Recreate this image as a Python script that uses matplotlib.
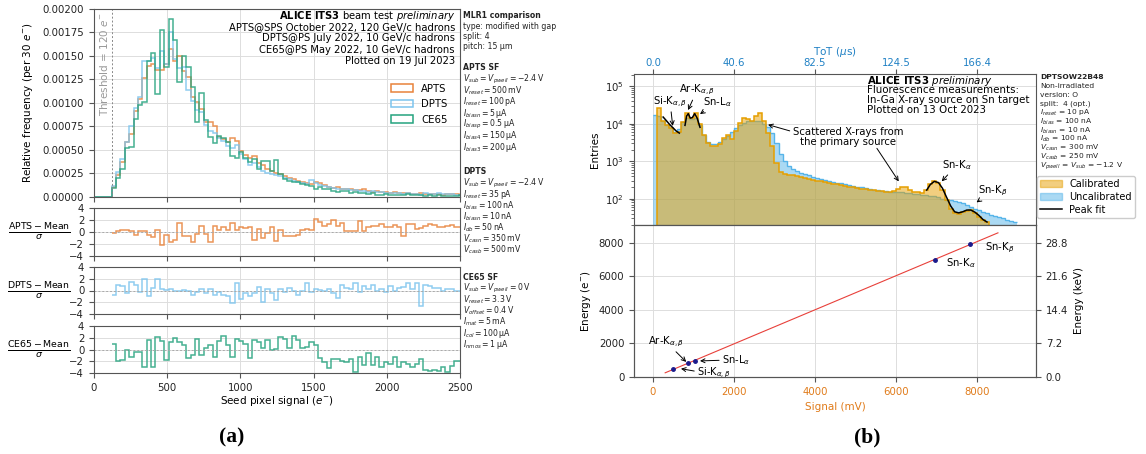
import numpy as np
import matplotlib
matplotlib.use("Agg")
import matplotlib.pyplot as plt
from matplotlib.patches import Patch
from matplotlib.lines import Line2D

# ---------------- (a) seed pixel signal comparison ----------------
threshold = 120          # e-
bin_width = 30           # e-
apts = [0.00011, 0.00023, 0.00037, 0.00058, 0.00067, 0.00091, 0.00104, 0.00127, 0.00139, 0.00142,
        0.00135, 0.00135, 0.00141, 0.00157, 0.00145, 0.00150, 0.00134, 0.00128, 0.00106, 0.00101,
        0.00094, 0.00080, 0.00080, 0.00075, 0.00064, 0.00062, 0.00058, 0.00063, 0.00060, 0.00049,
        0.00045, 0.00042, 0.00044, 0.00036, 0.00034, 0.00030, 0.00028, 0.00026, 0.00024, 0.00022,
        0.00020, 0.00019, 0.00017, 0.00016, 0.00015, 0.00014, 0.00016, 0.00015, 0.00013, 0.00011,
        0.00010, 0.00011, 0.00009, 0.00009, 0.00008, 0.00007, 0.00007, 0.00008, 0.00006, 0.00005,
        0.00006, 0.00005, 0.00005, 0.00004, 0.00005, 0.00004, 0.00004, 0.00004, 0.00003, 0.00003,
        0.00004, 0.00003, 0.00003, 0.00003, 0.00003, 0.00002, 0.00003, 0.00003, 0.00003, 0.00002]
dpts = [0.00012, 0.00027, 0.00040, 0.00059, 0.00076, 0.00095, 0.00106, 0.00145, 0.00145, 0.00148,
        0.00137, 0.00155, 0.00142, 0.00175, 0.00147, 0.00137, 0.00138, 0.00114, 0.00102, 0.00093,
        0.00090, 0.00077, 0.00070, 0.00068, 0.00063, 0.00060, 0.00054, 0.00052, 0.00055, 0.00046,
        0.00040, 0.00034, 0.00036, 0.00032, 0.00028, 0.00026, 0.00024, 0.00023, 0.00022, 0.00020,
        0.00019, 0.00017, 0.00016, 0.00015, 0.00014, 0.00018, 0.00015, 0.00013, 0.00012, 0.00011,
        0.00010, 0.00009, 0.00008, 0.00008, 0.00007, 0.00007, 0.00006, 0.00006, 0.00005, 0.00006,
        0.00005, 0.00005, 0.00004, 0.00004, 0.00004, 0.00004, 0.00003, 0.00004, 0.00003, 0.00003,
        0.00002, 0.00004, 0.00003, 0.00003, 0.00004, 0.00003, 0.00003, 0.00003, 0.00002, 0.00002]
ce65 = [0.00010, 0.00020, 0.00030, 0.00052, 0.00053, 0.00083, 0.00098, 0.00101, 0.00145, 0.00153,
        0.00110, 0.00178, 0.00138, 0.00189, 0.00167, 0.00122, 0.00150, 0.00138, 0.00117, 0.00080,
        0.00111, 0.00082, 0.00064, 0.00057, 0.00065, 0.00063, 0.00058, 0.00044, 0.00041, 0.00048,
        0.00041, 0.00037, 0.00040, 0.00030, 0.00038, 0.00038, 0.00028, 0.00039, 0.00024, 0.00019,
        0.00017, 0.00016, 0.00016, 0.00014, 0.00013, 0.00012, 0.00009, 0.00011, 0.00009, 0.00008,
        0.00006, 0.00005, 0.00006, 0.00006, 0.00004, 0.00005, 0.00004, 0.00004, 0.00003, 0.00004,
        0.00002, 0.00002, 0.00003, 0.00002, 0.00002, 0.00002, 0.00002, 0.00003, 0.00002, 0.00002,
        0.00002, 0.00001, 0.00002, 0.00001, 0.00002, 0.00001, 0.00001, 0.00001, 0.00001, 0.00002]

# (value - mean) / sigma for each chip, same binning
apts_pull = [-0.2, 0.2, 0.3, 0.4, 0.2, -0.5, 0.2, 0.1, -0.5, -0.8, 0.3, -2.2, -0.5, -1.6, -1.3, 1.5,
             -0.6, -0.6, -1.6, -0.3, 1.0, -0.3, -1.7, 1.0, 0.3, 0.8, 0.3, 1.5, 0.3, 0.8, 0.6, 0.8,
             -1.4, 0.5, -1.0, -0.2, 0.8, -1.5, 0.4, -0.6, -0.6, -0.6, -0.5, 0.3, 0.5, 0.4, 2.2, 1.7,
             1.0, 1.3, 2.0, 1.0, 1.5, 0.2, 0.2, 0.2, 1.8, 0.2, 0.8, 1.0, 1.0, 1.3, 0.9, 0.9,
             1.2, 0.9, -0.7, 1.3, 1.3, 0.5, 0.7, 1.0, 1.4, 1.1, 0.8, 0.8, 1.0, 1.2, 0.9, 0.8]
dpts_pull = [-0.8, 1.0, 0.7, -0.4, 1.4, 1.0, -0.2, 2.0, -1.0, 0.5, 2.0, 0.2, 0.1, 0.2, 0.0, 0.0,
             0.1, 0.0, -0.7, -0.3, 0.2, -0.5, 0.3, -0.7, -0.2, -0.8, -0.9, -2.2, 1.2, -1.5, -0.5, -1.0,
             -0.4, 0.6, -2.0, 0.3, -0.4, -1.6, 0.2, -0.3, 0.5, 0.0, -0.8, 0.0, 1.2, -0.2, 0.3, 0.1,
             0.0, 0.3, -0.4, -1.3, 1.0, 0.4, 0.3, 1.2, -0.3, 0.8, 0.2, 1.0, 0.0, 0.3, -0.2, 0.8,
             0.0, 0.5, 0.6, 1.2, 0.2, 1.3, -2.7, 0.9, 0.8, 0.5, 0.4, 0.0, 0.2, 0.3, 0.0, 0.0]
ce65_pull = [1.0, -1.9, -1.8, 0.0, -1.2, -0.5, -0.5, -2.9, 1.7, -2.9, 2.2, 1.5, -1.8, 1.3, 2.0, 1.3,
             0.8, -1.5, -0.9, 1.8, -1.0, 0.2, 0.8, -1.3, 1.5, 2.3, 0.8, -1.3, 1.8, 1.4, 1.0, -1.5,
             1.6, 1.3, 0.3, 1.7, 0.0, 0.1, 2.2, 1.8, 0.2, 2.3, 1.7, 0.3, 0.5, 1.3, 0.7, -1.4,
             -2.2, -3.1, -1.6, -1.7, -1.9, -2.1, -1.6, -3.9, -1.2, -2.6, -0.6, -2.7, -1.2, -3.0, -2.1, -2.4,
             -1.3, -2.9, -2.1, -2.5, -3.0, -2.5, -1.6, -3.5, -3.6, -3.5, -3.6, -3.0, -3.8, -2.8, -2.0, -2.0]

chips = ["APTS", "DPTS", "CE65"]
chip_colors = {"APTS": "#E8823A", "DPTS": "#7CC4EE", "CE65": "#25A37E"}

# ---------------- (b) DPTS fluorescence calibration ----------------
spec_bin = 100  # mV
calibrated = [0, 26000, 12000, 9000, 7500, 5800, 6000, 11000, 19000, 14000,
              19000, 10000, 5000, 3000, 2600, 2600, 2800, 4200, 5000, 4000,
              6500, 10500, 14500, 13000, 11500, 16000, 19500, 12000, 5500, 2500,
              900, 520, 470, 440, 420, 400, 380, 360, 340, 320,
              300, 290, 275, 265, 250, 240, 230, 220, 210, 200,
              195, 185, 180, 172, 168, 162, 158, 155, 150, 160,
              185, 210, 200, 175, 155, 150, 145, 170, 250, 300,
              270, 170, 90, 55, 42, 40, 44, 48, 50, 42,
              32, 27, 24, 0, 0, 0, 0, 0, 0, 0]
uncalibrated = [17000, 16000, 12000, 9000, 7500, 6000, 7000, 11000, 14000, 13000,
                14000, 9000, 5000, 3300, 2800, 2900, 3200, 3800, 4800, 6000,
                7500, 9000, 10500, 11500, 12000, 12000, 11500, 10000, 8000, 5500,
                3000, 1600, 1000, 750, 620, 550, 500, 460, 420, 390,
                360, 340, 320, 300, 285, 270, 255, 240, 230, 220,
                210, 200, 190, 180, 175, 170, 165, 160, 155, 150,
                150, 150, 145, 140, 135, 130, 125, 125, 120, 115,
                110, 100, 95, 90, 85, 80, 75, 70, 62, 55,
                50, 45, 42, 38, 35, 33, 30, 28, 26, 24]

# peak fit curves (signal in mV, entries)
fit_si_x = [250, 330, 410, 490, 570, 650]
fit_si_y = [15000, 12000, 9500, 7800, 6400, 5600]
fit_ar_x = [790, 830, 870, 920, 970, 1030, 1090, 1160]
fit_ar_y = [9000, 16000, 18500, 14000, 14500, 18500, 14000, 8000]
fit_sn_x = [6760, 6850, 6950, 7050, 7150, 7250, 7350, 7450, 7550, 7650, 7750, 7850, 7950, 8050, 8150, 8250]
fit_sn_y = [170, 240, 290, 270, 190, 110, 65, 45, 42, 45, 50, 50, 44, 36, 28, 24]

# calibration points: fitted peak position vs. line energy
cal_lines = ["Si", "Ar", "SnL", "SnKa", "SnKb"]
cal_signal = [494, 856, 1037, 6958, 7830]      # mV
cal_energy = [483, 822, 955, 7000, 7917]       # e-
ev_per_pair = 3.6                              # eV per e-h pair in Si

signal_ticks = [0, 2000, 4000, 6000, 8000]
tot_labels = ["0.0", "40.6", "82.5", "124.5", "166.4"]

CAL = "#E69F00"
UNCAL = "#56B4E9"
SIG_COLOR = "#E07B1A"
TOT_COLOR = "#1F80C4"

plt.rcParams.update({
    "font.family": "DejaVu Sans",
    "font.size": 7.3,
    "axes.edgecolor": "#555555",
    "axes.linewidth": 0.8,
    "xtick.color": "#555555",
    "ytick.color": "#555555",
    "xtick.labelcolor": "#222222",
    "ytick.labelcolor": "#222222",
    "xtick.labelsize": 7.3,
    "ytick.labelsize": 7.3,
    "grid.color": "#dddddd",
    "grid.linewidth": 0.7,
})

W, H = 1146, 454
fig = plt.figure(figsize=(W / 100, H / 100), dpi=100)


def px_axes(x0, y0, x1, y1, **kw):
    return fig.add_axes([x0 / W, 1 - y1 / H, (x1 - x0) / W, (y1 - y0) / H], **kw)


# ---- main histogram
ax = px_axes(94, 9, 460, 197)
edges = np.arange(0, threshold + bin_width * (len(apts) + 0.5), bin_width)
n_below = threshold // bin_width
for name, vals in zip(chips, [apts, dpts, ce65]):
    full = np.concatenate([np.zeros(n_below), vals])
    ax.stairs(full, edges, color=chip_colors[name], lw=1.1, alpha=0.85, baseline=None)
ax.axvline(threshold, color="#888888", lw=0.7, ls=(0, (2, 2)))
ax.text(threshold - 50, 0.00197, r"Threshold = 120 $e^{-}$", rotation=90, color="#999999",
        ha="center", va="top", fontsize=7.5)
ax.set_xlim(0, 2500)
ax.set_ylim(0, 0.002)
ax.set_yticks(np.arange(0, 0.00201, 0.00025))
ax.yaxis.set_major_formatter(matplotlib.ticker.FormatStrFormatter("%.5f"))
ax.set_xticks(np.arange(0, 2501, 500))
ax.tick_params(labelbottom=False)
ax.grid(True)
ax.set_axisbelow(True)
ax.set_ylabel(r"Relative frequency (per 30 $e^{-}$)", fontsize=7.5)
ax.yaxis.set_label_coords(-0.16, 0.5)

header = [r"$\bf{ALICE\ ITS3}$ beam test $\it{preliminary}$",
          "APTS@SPS October 2022, 120 GeV/c hadrons",
          "DPTS@PS July 2022, 10 GeV/c hadrons",
          "CE65@PS May 2022, 10 GeV/c hadrons",
          "Plotted on 19 Jul 2023"]
for i, line in enumerate(header):
    ax.text(0.986, (197 - 16 - 11.2 * i) / 188, line, transform=ax.transAxes,
            ha="right", va="center", fontsize=7.2)

handles = [Patch(facecolor="none", edgecolor=chip_colors[c], lw=1.1, label=c) for c in chips]
ax.legend(handles=handles, loc="upper left", bbox_to_anchor=(0.8, 0.625), frameon=False,
          fontsize=7.3, handlelength=2.2, handleheight=0.8, labelspacing=0.55, borderaxespad=0)

# ---- pull panels
pull_edges = np.arange(threshold, threshold + bin_width * (len(apts_pull) + 0.5), bin_width)
pull_boxes = [(208, 256), (267, 314), (326, 373)]
for (y0, y1), name, pulls in zip(pull_boxes, chips, [apts_pull, dpts_pull, ce65_pull]):
    rax = px_axes(94, y0, 460, y1, sharex=ax)
    rax.stairs(pulls, pull_edges, color=chip_colors[name], lw=1.1, alpha=0.85, baseline=None)
    rax.axhline(0, color="#aaaaaa", lw=0.7, ls=(0, (2, 2)))
    rax.set_ylim(-4, 4)
    rax.set_yticks([-4, -2, 0, 2, 4])
    rax.grid(True)
    rax.set_axisbelow(True)
    rax.set_ylabel(r"$\frac{\mathrm{%s - Mean}}{\sigma}$" % name, rotation=0,
                   ha="center", va="center", fontsize=9.6)
    rax.yaxis.set_label_coords(-0.15, 0.5)
    if name != "CE65":
        rax.tick_params(labelbottom=False)
rax.set_xlim(0, 2500)
rax.set_xlabel(r"Seed pixel signal ($e^{-}$)", fontsize=7.5, labelpad=1)


# ---- operating conditions text
def text_block(x, y_start, step, lines, size=5.6):
    for i, line in enumerate(lines):
        fig.text(x / W, 1 - (y_start + step * i) / H, line, ha="left", va="center",
                 fontsize=size, fontweight="bold" if i == 0 else "normal", color="#222222")


text_block(463, 16, 10.2, ["MLR1 comparison", "type: modified with gap", "split: 4",
                            "pitch: 15 µm"])
text_block(463, 68, 11.3, ["APTS SF",
                            r"$V_{sub} = V_{pwell} = -2.4\,\mathrm{V}$",
                            r"$V_{reset} = 500\,\mathrm{mV}$",
                            r"$I_{reset} = 100\,\mathrm{pA}$",
                            r"$I_{biasn} = 5\,$µA",
                            r"$I_{biasp} = 0.5\,$µA",
                            r"$I_{bias4} = 150\,$µA",
                            r"$I_{bias3} = 200\,$µA"])
text_block(463, 172, 11.1, ["DPTS",
                             r"$V_{sub} = V_{pwell} = -2.4\,\mathrm{V}$",
                             r"$I_{reset} = 35\,\mathrm{pA}$",
                             r"$I_{bias} = 100\,\mathrm{nA}$",
                             r"$I_{biasn} = 10\,\mathrm{nA}$",
                             r"$I_{db} = 50\,\mathrm{nA}$",
                             r"$V_{casn} = 350\,\mathrm{mV}$",
                             r"$V_{casb} = 500\,\mathrm{mV}$"])
text_block(463, 277, 11.2, ["CE65 SF",
                             r"$V_{sub} = V_{pwell} = 0\,\mathrm{V}$",
                             r"$V_{reset} = 3.3\,\mathrm{V}$",
                             r"$V_{offset} = 0.4\,\mathrm{V}$",
                             r"$I_{mat} = 5\,\mathrm{mA}$",
                             r"$I_{col} = 100\,$µA",
                             r"$I_{nmos} = 1\,$µA"])

# ---- spectrum panel (ToT scale on top)
axs = px_axes(634, 74, 1036, 225)
spec_edges = np.arange(0, spec_bin * (len(calibrated) + 0.5), spec_bin)
axs.stairs(uncalibrated, spec_edges, fill=True, color=UNCAL, alpha=0.5, baseline=1)
axs.stairs(uncalibrated, spec_edges, color=UNCAL, lw=1.0, baseline=None)
axs.stairs(calibrated, spec_edges, fill=True, color=CAL, alpha=0.5, baseline=1)
axs.stairs(calibrated, spec_edges, color=CAL, lw=1.1, baseline=None)
for fx, fy in [(fit_si_x, fit_si_y), (fit_ar_x, fit_ar_y), (fit_sn_x, fit_sn_y)]:
    axs.plot(fx, fy, color="black", lw=1.1)
axs.set_yscale("log")
axs.set_ylim(20, 2.1e5)
axs.set_xlim(-470, 9460)
axs.set_xticks(signal_ticks)
axs.set_xticklabels(tot_labels)
axs.tick_params(axis="x", top=True, bottom=False, labeltop=True, labelbottom=False,
                labelcolor=TOT_COLOR, pad=1)
axs.xaxis.set_label_position("top")
axs.set_xlabel(r"ToT ($\mu$s)", color=TOT_COLOR, fontsize=7.5, labelpad=2)
axs.set_ylabel("Entries", fontsize=7.5)
axs.grid(True)
axs.set_axisbelow(True)

arrow = dict(arrowstyle="->", color="black", lw=0.7, shrinkA=0, shrinkB=0)
axs.annotate(r"Si-K$_{\alpha,\beta}$", xy=(486, 8700), xytext=(420, 38000),
             ha="center", va="center", fontsize=7.3, arrowprops=arrow)
axs.annotate(r"Ar-K$_{\alpha,\beta}$", xy=(865, 23000), xytext=(1090, 78000),
             ha="center", va="center", fontsize=7.3, arrowprops=arrow)
axs.annotate(r"Sn-L$_{\alpha}$", xy=(1160, 18000), xytext=(1600, 38000),
             ha="center", va="center", fontsize=7.3, arrowprops=arrow)
axs.annotate("Scattered X-rays from\nthe primary source", xy=(2840, 9400), xytext=(4810, 4500),
             ha="center", va="center", fontsize=7.3, linespacing=1.0,
             arrowprops=dict(arrow, relpos=(0.0, 0.75)))
axs.annotate("", xy=(6070, 290), xytext=(5530, 2200), arrowprops=arrow)
axs.annotate(r"Sn-K$_{\alpha}$", xy=(7130, 290), xytext=(7500, 780),
             ha="center", va="center", fontsize=7.3, arrowprops=arrow)
axs.annotate(r"Sn-K$_{\beta}$", xy=(7990, 80), xytext=(8400, 166),
             ha="center", va="center", fontsize=7.3, arrowprops=arrow)

info = [r"$\bf{ALICE\ ITS3}$ $\it{preliminary}$",
        "Fluorescence measurements:",
        "In-Ga X-ray source on Sn target",
        "Plotted on 13 Oct 2023"]
for i, line in enumerate(info):
    axs.text((867 - 634) / 402, 1 - (80.7 + 9.8 * i - 74) / 151, line, transform=axs.transAxes,
             ha="left", va="center", fontsize=7.4)

leg_handles = [Patch(facecolor=CAL, alpha=0.5, edgecolor=CAL, label="Calibrated"),
               Patch(facecolor=UNCAL, alpha=0.5, edgecolor=UNCAL, label="Uncalibrated"),
               Line2D([], [], color="black", lw=1.1, label="Peak fit")]
axs.legend(handles=leg_handles, loc="upper left", bbox_to_anchor=(1.003, 0.325), fontsize=7,
           handlelength=2.2, labelspacing=0.3, borderaxespad=0, borderpad=0.3,
           fancybox=True, framealpha=1, edgecolor="#cccccc")

text_block(1040, 77.3, 8.87, ["DPTSOW22B48", "Non-irradiated", "version: O", "split:  4 (opt.)",
                              r"$I_{reset}$ = 10 pA", r"$I_{bias}$ = 100 nA",
                              r"$I_{biasn}$ = 10 nA", r"$I_{db}$ = 100 nA",
                              r"$V_{casn}$ = 300 mV", r"$V_{casb}$ = 250 mV",
                              r"$V_{pwell}$ = $V_{sub}$ = $-$1.2 V"], size=5.4)

# ---- calibration panel
axc = px_axes(634, 225, 1036, 377)
coef = np.polyfit(cal_signal, cal_energy, 1)
fit_x = np.array([300, 8520])
axc.plot(fit_x, np.polyval(coef, fit_x), color="#E8403A", lw=0.8)
axc.plot(cal_signal, cal_energy, "o", color="#1a1a8c", ms=2.5)
axc.set_xlim(-470, 9460)
axc.set_xticks(signal_ticks)
axc.tick_params(axis="x", labelcolor=SIG_COLOR)
axc.set_ylim(0, 9070)
axc.set_yticks([0, 2000, 4000, 6000, 8000])
axc.set_xlabel("Signal (mV)", color=SIG_COLOR, fontsize=7.5)
axc.set_ylabel(r"Energy (e$^{-}$)", fontsize=7.5)
axc.grid(True)
axc.set_axisbelow(True)

axk = axc.twinx()
axk.set_ylim(0, 9070 * ev_per_pair / 1000)
axk.set_yticks([0, 7.2, 14.4, 21.6, 28.8])
axk.yaxis.set_major_formatter(matplotlib.ticker.FormatStrFormatter("%.1f"))
axk.set_ylabel("Energy (keV)", fontsize=7.5)

axc.annotate(r"Ar-K$_{\alpha,\beta}$", xy=(820, 900), xytext=(320, 2100),
             ha="center", va="center", fontsize=7.3, arrowprops=arrow)
axc.annotate(r"Sn-L$_{\alpha}$", xy=(1160, 960), xytext=(1700, 1000),
             ha="left", va="center", fontsize=7.1, arrowprops=dict(arrow, relpos=(0, 0.5)))
axc.annotate(r"Si-K$_{\alpha,\beta}$", xy=(690, 496), xytext=(1086, 240),
             ha="left", va="center", fontsize=7.1, arrowprops=dict(arrow, relpos=(0, 0.6)))
axc.text(7600, 6790, r"Sn-K$_{\alpha}$", ha="center", va="center", fontsize=7.3)
axc.text(8570, 7683, r"Sn-K$_{\beta}$", ha="center", va="center", fontsize=7.3)

# ---- panel tags
for x, tag in [(232, "(a)"), (867, "(b)")]:
    fig.text(x / W, 1 - 437 / H, tag, ha="center", va="center", fontsize=15.5,
             fontweight="bold", family="Liberation Serif")

fig.savefig("out.png", dpi=100)
